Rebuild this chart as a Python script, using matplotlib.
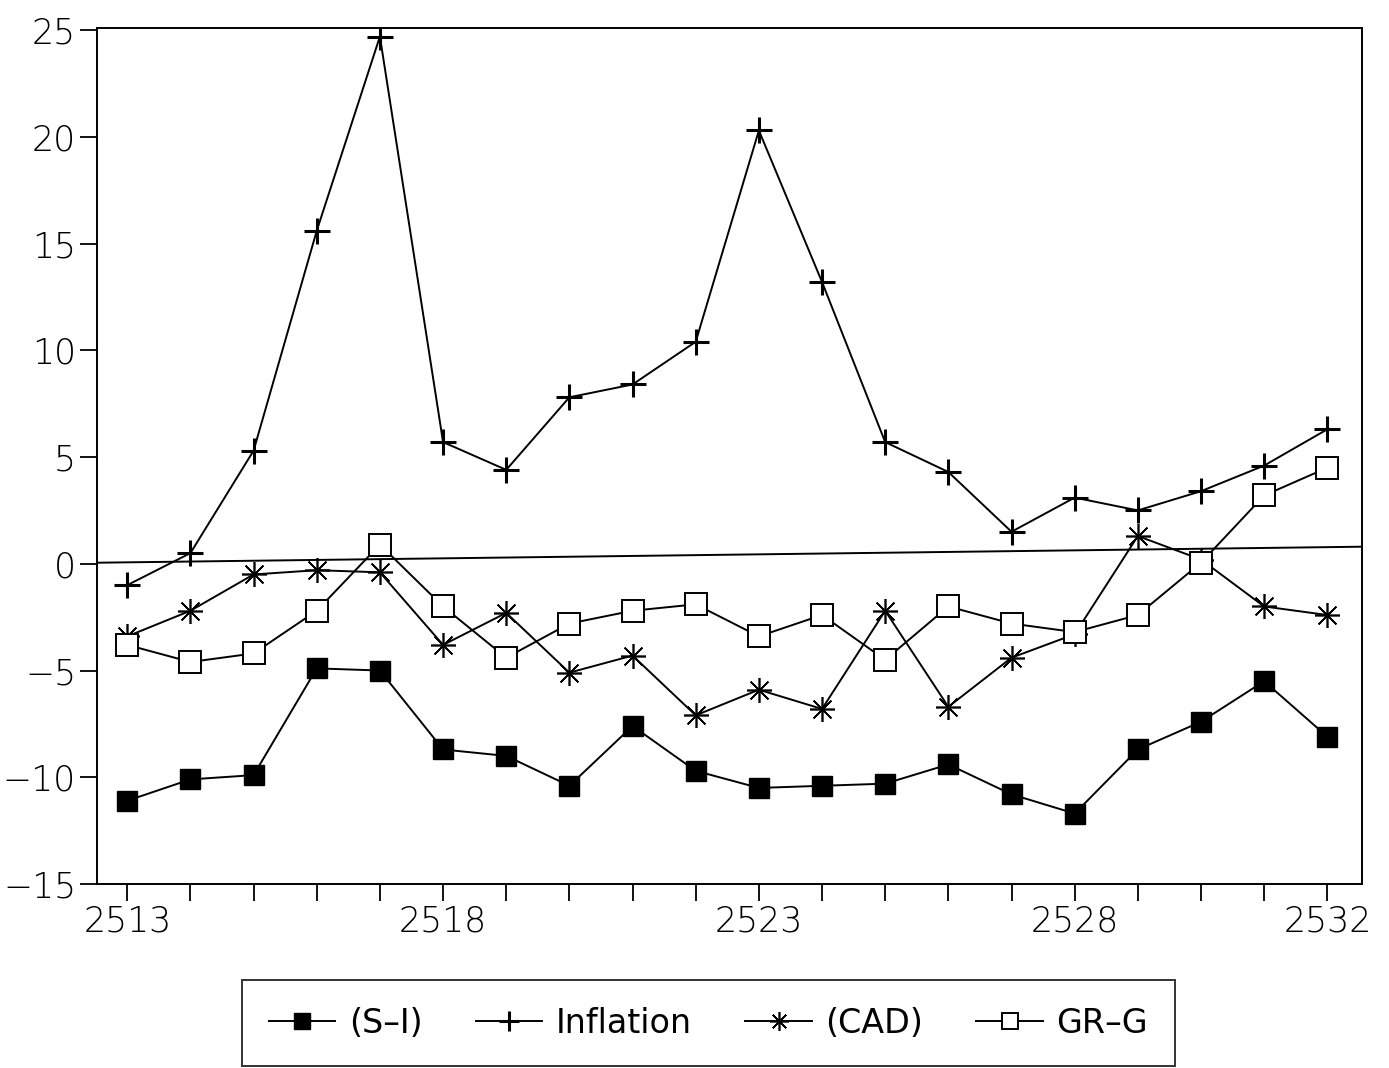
import matplotlib.pyplot as plt
import numpy as np

# years (Buddhist era)
years = np.arange(2513, 2533)

s_minus_i = [-11.1, -10.1, -9.9, -4.9, -5.0, -8.7, -9.0, -10.4, -7.6, -9.7,
             -10.5, -10.4, -10.3, -9.4, -10.8, -11.7, -8.7, -7.4, -5.5, -8.1]
inflation = [-1.0, 0.5, 5.3, 15.6, 24.7, 5.7, 4.4, 7.8, 8.4, 10.4,
             20.3, 13.2, 5.7, 4.3, 1.5, 3.1, 2.5, 3.4, 4.6, 6.3]
cad = [-3.4, -2.2, -0.5, -0.3, -0.4, -3.8, -2.3, -5.1, -4.3, -7.1,
       -5.9, -6.8, -2.2, -6.7, -4.4, -3.3, 1.3, 0.2, -2.0, -2.4]
gr_g = [-3.8, -4.6, -4.2, -2.2, 0.9, -2.0, -4.4, -2.8, -2.2, -1.9,
        -3.4, -2.4, -4.5, -2.0, -2.8, -3.2, -2.4, 0.05, 3.2, 4.5]

label_years = [2513, 2518, 2523, 2528, 2532]
y_ticks = [-15, -10, -5, 0, 5, 10, 15, 20, 25]

fig = plt.figure(figsize=(13.89, 10.68), dpi=100)
ax = fig.add_axes([0.0698, 0.1723, 0.9108, 0.8015])

lw = 1.4
ax.plot(years, s_minus_i, color='black', lw=lw, marker='s', ms=15,
        mfc='black', mec='black', label='(S\u2013I)')
ax.plot(years, inflation, color='black', lw=lw, marker='+', ms=19,
        mew=2.2, label='Inflation')
ax.plot(years, cad, color='black', lw=lw, marker=(8, 2, 0), ms=18,
        mew=1.2, label='(CAD)')
ax.plot(years, gr_g, color='black', lw=lw, marker='s', ms=16,
        mfc='white', mec='black', mew=1.4, label='GR\u2013G')

# zero reference line (slightly tilted in the scan)
ax.plot([2512.52, 2532.55], [0.05, 0.8], color='black', lw=1.4, zorder=1)

ax.set_xlim(2512.52, 2532.55)
ax.set_ylim(-15, 25.1)

ax.set_xticks(years, minor=True)
ax.set_xticks(label_years)
ax.set_xticklabels([str(y) for y in label_years])
ax.set_yticks(y_ticks)
ax.set_yticklabels([str(v).replace('-', '\u2212') for v in y_ticks])

ax.tick_params(axis='both', which='major', direction='out', length=12,
               width=1.3, labelsize=25, pad=3)
ax.tick_params(axis='x', which='minor', direction='out', length=12, width=1.3)
for lbl in ax.get_xticklabels() + ax.get_yticklabels():
    lbl.set_fontweight('light')

for sp in ax.spines.values():
    sp.set_linewidth(1.4)

leg = fig.legend(loc='center', bbox_to_anchor=(0.51, 0.042), ncol=4,
                 fontsize=24, frameon=True, fancybox=False, edgecolor='black',
                 handlelength=2.0, handletextpad=0.4, columnspacing=1.6,
                 borderpad=0.8, markerscale=0.75)
leg.get_frame().set_linewidth(1.4)

fig.savefig('out.png', dpi=100, facecolor='white')
